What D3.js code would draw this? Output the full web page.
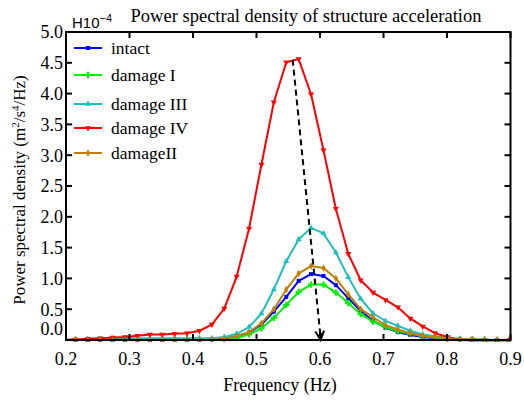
<!DOCTYPE html>
<html><head><meta charset="utf-8">
<script src="https://cdn.jsdelivr.net/npm/d3@7"></script>
<style>body{margin:0;background:#fff}svg{display:block}</style>
</head><body>
<svg id="c" width="524" height="403"></svg>
<script>
const freq = [0.1953,0.2148,0.2344,0.2539,0.2734,0.2930,0.3125,0.3320,0.3516,0.3711,0.3906,0.4102,0.4297,0.4492,0.4688,0.4883,0.5078,0.5273,0.5469,0.5664,0.5859,0.6055,0.6250,0.6445,0.6641,0.6836,0.7031,0.7227,0.7422,0.7617,0.7813,0.8008,0.8203,0.8398,0.8594,0.8789,0.8984];
const intact   = [0,0,0,0,0,0,0,0,0,0,0,0,0.01,0.02,0.06,0.12,0.25,0.46,0.70,0.96,1.07,1.04,0.89,0.68,0.47,0.31,0.20,0.13,0.08,0.05,0.03,0.02,0.01,0.01,0,0,0];
const damage1  = [0,0,0,0,0,0,0,0,0,0,0,0,0,0.01,0.03,0.09,0.19,0.36,0.57,0.78,0.90,0.90,0.77,0.60,0.42,0.30,0.21,0.14,0.10,0.06,0.04,0.02,0.01,0.01,0,0,0];
const damage3  = [0,0.01,0.01,0.02,0.02,0.03,0.03,0.03,0.03,0.03,0.03,0.03,0.03,0.05,0.10,0.21,0.43,0.82,1.28,1.63,1.82,1.73,1.42,1.02,0.67,0.43,0.31,0.23,0.15,0.09,0.06,0.04,0.02,0.01,0.01,0,0];
const damage4  = [0,0.01,0.02,0.03,0.04,0.05,0.07,0.09,0.09,0.10,0.11,0.15,0.25,0.51,1.03,1.81,2.85,3.86,4.51,4.56,3.99,3.08,2.13,1.40,0.97,0.77,0.65,0.53,0.35,0.22,0.11,0.05,0,-0.01,-0.01,-0.01,-0.01];
const damage2  = [0,0,0,0,0,0,0,0,0,0,0,0,0,0.02,0.06,0.13,0.27,0.50,0.82,1.08,1.20,1.17,1.00,0.74,0.50,0.37,0.24,0.17,0.11,0.07,0.05,0.03,0.01,0.01,0,0,0];
const seriesNames  = ["intact","damage I","damage III","damage IV","damageII"];
const seriesColors = ["#0000ff","#00ee00","#1fbfbf","#ff0000","#bf8000"];
const seriesMarkers = ["square","cross","triangle","triangleDown","diamond"];
const xTicks = [0.2,0.3,0.4,0.5,0.6,0.7,0.8,0.9];
const yTicks = [0.0,0.5,1.0,1.5,2.0,2.5,3.0,3.5,4.0,4.5,5.0];
const arrowFrom = [0.557, 4.55];
const arrowTo = [0.601, 0.0];
const titleText = "Power spectral density of structure acceleration";
const xLabel = "Frequency (Hz)";

const allSeries = [intact, damage1, damage3, damage4, damage2];
const svg = d3.select("#c");
const L=66, R=510.5, T=32, B=340;
const x = d3.scaleLinear().domain([0.2,0.9]).range([L,R]);
const y = d3.scaleLinear().domain([0,5]).range([B,T]);
const serif = "'Liberation Serif','Times New Roman',serif";

svg.append("defs").append("clipPath").attr("id","clip")
  .append("rect").attr("x",L).attr("y",T-2).attr("width",R-L).attr("height",B-T+4);

const symMap = {square:d3.symbolSquare, cross:d3.symbolCross, triangle:d3.symbolTriangle, triangleDown:d3.symbolTriangle, diamond:d3.symbolDiamond};
function marker(g, type, color, cx, cy){
  const p = d3.symbol().type(symMap[type]).size(type==="cross"?22:16)();
  g.append("path").attr("d",p).attr("fill",color)
   .attr("transform",`translate(${cx},${cy})`+(type==="triangleDown"?" rotate(180)":""));
}

const plot = svg.append("g").attr("clip-path","url(#clip)");
const line = d3.line().x((d,i)=>x(freq[i])).y(d=>y(d));
allSeries.forEach((s,si)=>{
  const g = plot.append("g");
  g.append("path").datum(s).attr("d",line).attr("fill","none")
   .attr("stroke",seriesColors[si]).attr("stroke-width",2).attr("stroke-linejoin","round");
  s.forEach((v,i)=>marker(g, seriesMarkers[si], seriesColors[si], x(freq[i]), y(v)));
});

// dashed arrow
const ax1=x(arrowFrom[0]), ay1=y(arrowFrom[1]), ax2=x(arrowTo[0]), ay2=y(arrowTo[1]);
svg.append("line").attr("x1",ax1).attr("y1",ay1).attr("x2",ax2).attr("y2",ay2-2)
  .attr("stroke","#000").attr("stroke-width",2).attr("stroke-dasharray","6,4");
{
  const ang = Math.atan2(ay2-ay1, ax2-ax1);
  const len=10, spread=0.45;
  const p1=[ax2-len*Math.cos(ang-spread), ay2-len*Math.sin(ang-spread)];
  const p2=[ax2-len*Math.cos(ang+spread), ay2-len*Math.sin(ang+spread)];
  svg.append("path").attr("d",`M${p1[0]},${p1[1]}L${ax2},${ay2}L${p2[0]},${p2[1]}`)
    .attr("fill","none").attr("stroke","#000").attr("stroke-width",2);
  svg.append("line").attr("x1",ax2).attr("y1",ay2-7).attr("x2",ax2).attr("y2",ay2).attr("stroke","#000").attr("stroke-width",2.5);
}

// axes frame
const ax = svg.append("g");
ax.append("rect").attr("x",L).attr("y",T).attr("width",R-L).attr("height",B-T)
  .attr("fill","none").attr("stroke","#000").attr("stroke-width",2);
const tl=6;
xTicks.forEach(t=>{
  ax.append("line").attr("x1",x(t)).attr("x2",x(t)).attr("y1",B).attr("y2",B-tl).attr("stroke","#000").attr("stroke-width",2);
  ax.append("line").attr("x1",x(t)).attr("x2",x(t)).attr("y1",T).attr("y2",T+tl).attr("stroke","#000").attr("stroke-width",2);
  ax.append("text").attr("x",x(t)).attr("y",B+25).attr("text-anchor","middle")
    .attr("font-family",serif).attr("font-size",18).text(d3.format(".1f")(t));
});
yTicks.forEach(t=>{
  ax.append("line").attr("x1",L).attr("x2",L+tl).attr("y1",y(t)).attr("y2",y(t)).attr("stroke","#000").attr("stroke-width",2);
  ax.append("line").attr("x1",R).attr("x2",R-tl).attr("y1",y(t)).attr("y2",y(t)).attr("stroke","#000").attr("stroke-width",2);
  ax.append("text").attr("x",L-3).attr("y",y(t)+(t===0?-11:0)).attr("dy","0.35em").attr("text-anchor","end")
    .attr("font-family",serif).attr("font-size",18).text(d3.format(".1f")(t));
});

// exponent label
const ex = svg.append("text").attr("x",72).attr("y",28).attr("font-family","'Liberation Sans',Arial,sans-serif").attr("font-size",15);
ex.append("tspan").text("H10");
ex.append("tspan").attr("dy",-6).attr("font-size",11).text("\u22124");

// title
svg.append("text").attr("x",306).attr("y",22).attr("text-anchor","middle")
  .attr("font-family",serif).attr("font-size",18.5).text(titleText);

// x label
svg.append("text").attr("x",280).attr("y",391).attr("text-anchor","middle")
  .attr("font-family",serif).attr("font-size",18).text(xLabel);

// y label
const yl = svg.append("text").attr("transform","translate(25,190) rotate(-90)").attr("text-anchor","middle")
  .attr("font-family",serif).attr("font-size",17);
yl.append("tspan").text("Power spectral density (m");
yl.append("tspan").attr("dy",-6).attr("font-size",11).text("2");
yl.append("tspan").attr("dy",6).text("/s");
yl.append("tspan").attr("dy",-6).attr("font-size",11).text("4");
yl.append("tspan").attr("dy",6).text("/Hz)");

// legend
const legY = [48,75,104,128,153];
seriesNames.forEach((n,i)=>{
  const g = svg.append("g");
  g.append("line").attr("x1",74).attr("x2",102).attr("y1",legY[i]).attr("y2",legY[i])
    .attr("stroke",seriesColors[i]).attr("stroke-width",2);
  marker(g, seriesMarkers[i], seriesColors[i], 88, legY[i]);
  g.append("text").attr("x",111).attr("y",legY[i]).attr("dy","0.35em")
    .attr("font-family",serif).attr("font-size",17.5).text(n);
});
</script>
</body></html>
